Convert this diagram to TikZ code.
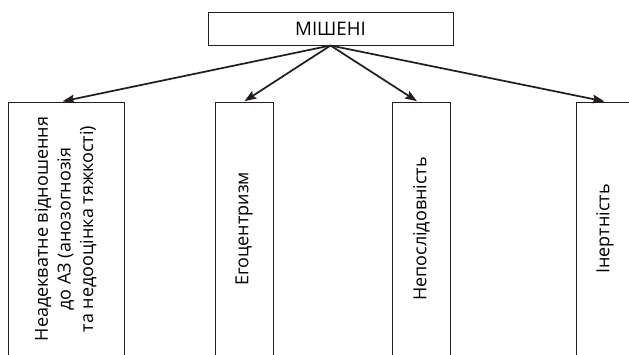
\documentclass[tikz,border=0pt]{standalone}
\usepackage{fontspec}
\setmainfont{Open Sans}
\usetikzlibrary{arrows.meta}

\definecolor{ink}{RGB}{35,31,32}
\tikzset{
  headbox/.style={draw=ink, line width=0.75, inner sep=0pt, minimum width=183.75pt, minimum height=24.75pt, font=\fontsize{14}{17}\selectfont},
  targetbox/.style={draw=ink, line width=0.75, inner sep=0pt, minimum height=190.5pt, font=\fontsize{13.5}{17}\selectfont},
  pointer/.style={draw=ink, line width=1.3, -{Stealth[length=9pt,width=6.5pt,inset=1.5pt]}, shorten >=0.4pt},
}

\begin{document}
\begin{tikzpicture}[x=0.75pt,y=0.75pt,yscale=-1,xscale=1]
%set diagram frame
\useasboundingbox (0,0) rectangle (629,354);
% Text Node
\node [headbox] (head) at (330.5,28.5) {МІШЕНІ};
%Shape: Rectangle
\node [targetbox, minimum width=87pt] (inadequate) at (66,229)
  {\rotatebox{90}{\begin{tabular}{@{}c@{}}Неадекватне відношення\\до АЗ (анозогнозія\\та недооцінка тяжкості)\end{tabular}}};
%Shape: Rectangle
\node [targetbox, minimum width=43.5pt] (egocentrism) at (244,229) {\rotatebox{90}{Егоцентризм}};
%Shape: Rectangle
\node [targetbox, minimum width=43pt] (inconsistency) at (421.5,229) {\rotatebox{90}{Непослідовність}};
%Shape: Rectangle
\node [targetbox, minimum width=43.5pt] (inertia) at (605,229) {\rotatebox{90}{Інертність}};
%Straight Lines
\draw [pointer] (head.south) -- ([xshift=-3pt]inadequate.north);
\draw [pointer] (head.south) -- (egocentrism.north);
\draw [pointer] (head.south) -- ([xshift=-3pt]inconsistency.north);
\draw [pointer] (head.south) -- (inertia.north);
\end{tikzpicture}
\end{document}
